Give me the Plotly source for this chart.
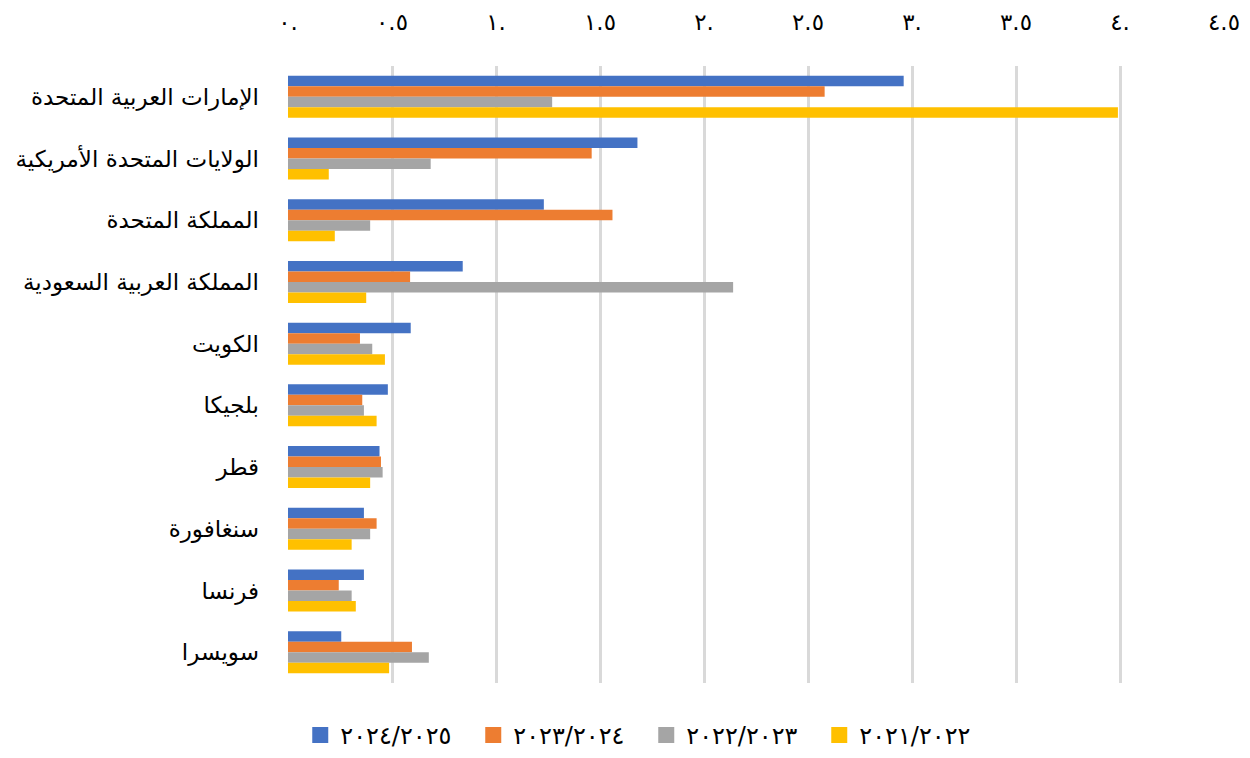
import plotly.graph_objects as go

countries = [
    "الإمارات العربية المتحدة",
    "الولايات المتحدة الأمريكية",
    "المملكة المتحدة",
    "المملكة العربية السعودية",
    "الكويت",
    "بلجيكا",
    "قطر",
    "سنغافورة",
    "فرنسا",
    "سويسرا",
]

series_names = ["٢٠٢٤/٢٠٢٥", "٢٠٢٣/٢٠٢٤", "٢٠٢٢/٢٠٢٣", "٢٠٢١/٢٠٢٢"]

v_2024_25 = [2.96, 1.68, 1.23, 0.84, 0.59, 0.48, 0.44, 0.365, 0.365, 0.256]
v_2023_24 = [2.58, 1.46, 1.56, 0.587, 0.346, 0.357, 0.447, 0.426, 0.244, 0.596]
v_2022_23 = [1.27, 0.686, 0.395, 2.14, 0.405, 0.365, 0.455, 0.395, 0.306, 0.677]
v_2021_22 = [3.99, 0.196, 0.225, 0.376, 0.466, 0.426, 0.395, 0.306, 0.326, 0.486]

tick_values = [0, 0.5, 1, 1.5, 2, 2.5, 3, 3.5, 4, 4.5]
tick_labels = ["٠.", "٠.٥", "١.", "١.٥", "٢.", "٢.٥", "٣.", "٣.٥", "٤.", "٤.٥"]

colors = ["#4472C4", "#ED7D31", "#A5A5A5", "#FFC000"]
all_values = [v_2024_25, v_2023_24, v_2022_23, v_2021_22]

fig = go.Figure()
for name, vals, col in zip(series_names, all_values, colors):
    fig.add_trace(go.Bar(
        y=countries, x=vals, name=name, orientation="h",
        marker=dict(color=col, line=dict(width=0)),
        showlegend=False, legendgroup=name,
    ))

# Legend entries drawn as larger square swatches
for name, col in zip(series_names, colors):
    fig.add_trace(go.Scatter(
        x=[None], y=[None], mode="markers", name=name, legendgroup=name,
        marker=dict(symbol="square", size=18, color=col),
        showlegend=True,
    ))

font_family = "DejaVu Sans, Noto Sans, sans-serif"

fig.update_layout(
    width=1250, height=758,
    margin=dict(l=288, r=26, t=66, b=75),
    paper_bgcolor="white", plot_bgcolor="white",
    barmode="group", bargap=0.32, bargroupgap=0,
    font=dict(family=font_family, color="#000000"),
    showlegend=True,
    legend=dict(
        orientation="h", xref="container", yref="container",
        x=0.517, xanchor="center", y=-0.008, yanchor="bottom",
        font=dict(size=24, color="#000000"),
        traceorder="normal", itemwidth=30,
        entrywidth=128, entrywidthmode="pixels",
    ),
    xaxis=dict(
        side="top", range=[0, 4.5],
        tickvals=tick_values, ticktext=tick_labels,
        tickfont=dict(size=23, color="#000000"),
        ticklabelstandoff=30, automargin=False,
        showgrid=True, gridcolor="#D9D9D9", gridwidth=2.5,
        zeroline=False, showline=False, ticks="",
    ),
    yaxis=dict(
        autorange="reversed", automargin=False,
        tickfont=dict(size=23, color="#000000"),
        showgrid=False, zeroline=False, showline=False, ticks="",
        ticklabelstandoff=28,
    ),
)

fig.write_html("out.html")
